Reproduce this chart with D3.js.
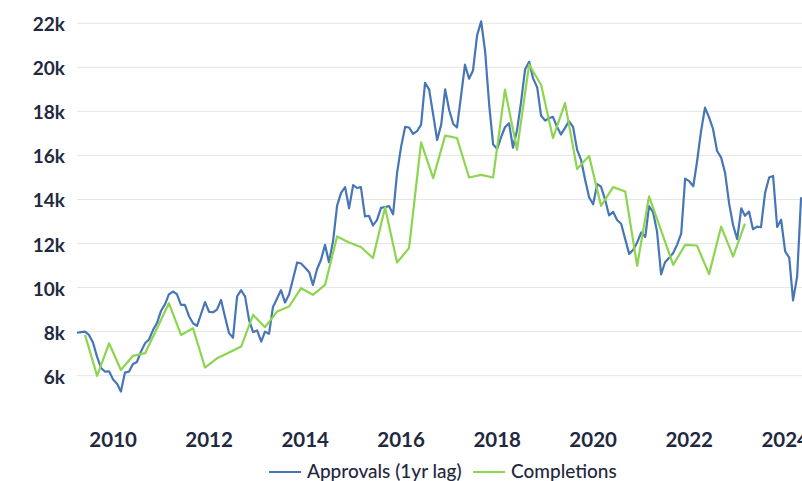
<!DOCTYPE html>
<html>
<head>
<meta charset="utf-8">
<script src="https://cdn.jsdelivr.net/npm/d3@7"></script>
<style>
  body { margin: 0; background: #fff; }
  svg { display: block; font-family: 'Lato', sans-serif; }
</style>
</head>
<body>
<div id="chart"></div>
<script>
// monthly approvals (shifted one year), first month Apr 2009
const approvalsStart = new Date(2009, 3, 1)
const approvals = [
  7950, 7980, 8000, 7850, 7500, 6850, 6350, 6180, 6200,
  5820, 5620, 5280, 6140, 6180, 6530, 6620, 7100, 7470, 7640, 8080, 8400,
  8950, 9260, 9690, 9820, 9700, 9210, 9210, 8700, 8380, 8260, 8800, 9340,
  8900, 8880, 9000, 9440, 8680, 7930, 7720, 9600, 9880, 9590, 8500, 7980,
  8050, 7550, 8000, 7900, 9120, 9500, 9880, 9320, 9700, 10400, 11140, 11090,
  10900, 10700, 10120, 10830, 11250, 11940, 11150, 12100, 13720, 14300, 14560, 13600,
  14650, 14520, 14560, 13230, 13260, 12820, 13060, 13620, 13660, 13700, 13330, 15200,
  16400, 17300, 17270, 16980, 17100, 17400, 19300, 19000, 17850, 16700, 17400, 19000,
  18050, 17430, 17270, 18700, 20120, 19480, 19860, 21450, 22090, 20730, 18300, 16500,
  16300, 16850, 17280, 17460, 16350, 17150, 18400, 19900, 20250, 19500, 19100, 17800,
  17580, 17700, 17750, 17300, 16950, 17250, 17560, 17300, 16250, 15800, 14900, 14100,
  13780, 14700, 14580, 13990, 13280, 13440, 13070, 12900, 12200, 11530, 11720, 12050,
  12500, 12300, 13700, 13420, 12550, 10600, 11150, 11350, 11570, 11950, 12450, 14950,
  14830, 14600, 15700, 17100, 18170, 17730, 17200, 16200, 15900, 15200, 13800, 12830,
  12200, 13600, 13260, 13450, 12650, 12770, 12740, 14300, 15000, 15070, 12750, 13080,
  11640, 11360, 9420, 10500, 14100
]

// quarterly completions, first quarter ending Jun 2009
const completionsStart = new Date(2009, 5, 1)
const completions = [
  7850, 5990, 7470, 6260, 6900, 7020, 8150, 9290, 7850, 8150,
  6370, 6790, 7050, 7320, 8760, 8200, 8910, 9140, 9970, 9670,
  10120, 12320, 12050, 11840, 11340, 13640, 11140, 11790, 16590, 14970,
  16900, 16790, 15000, 15120, 15000, 18990, 16260, 20120, 19210, 16790,
  18380, 15380, 15980, 13710, 14560, 14360, 10990, 14140, 12600, 11030,
  11940, 11910, 10610, 12770, 11410, 12900
]

const yTicks = [6000, 8000, 10000, 12000, 14000, 16000, 18000, 20000, 22000]
const xTickYears = [2010, 2012, 2014, 2016, 2018, 2020, 2022, 2024]

const seriesNames = ['Approvals (1yr lag)', 'Completions']
const seriesColors = ['#4676b6', '#8dd550']

const width = 802
const height = 481
const left = 77

const approvalRows = approvals.map((v, i) => ({ date: d3.timeMonth.offset(approvalsStart, i), value: v }))
const completionRows = completions.map((v, i) => ({ date: d3.timeMonth.offset(completionsStart, i * 3), value: v }))

const x = d3.scaleTime()
  .domain([approvalsStart, new Date(2024, 4, 8)])
  .range([left, width])
const y = d3.scaleLinear()
  .domain([4000, 22000])
  .range([419.7, 23.3])

const svg = d3.select('#chart').append('svg')
  .attr('width', width)
  .attr('height', height)

// grid
svg.append('g')
  .selectAll('line')
  .data(yTicks)
  .join('line')
  .attr('x1', left)
  .attr('x2', width)
  .attr('y1', d => y(d))
  .attr('y2', d => y(d))
  .attr('stroke', '#e6e6e6')
  .attr('stroke-width', 1)

// y labels
svg.append('g')
  .style('font', '700 19px Lato, sans-serif')
  .attr('fill', '#1f2940')
  .selectAll('text')
  .data(yTicks)
  .join('text')
  .attr('x', 65)
  .attr('y', d => y(d))
  .attr('dy', '0.42em')
  .attr('text-anchor', 'end')
  .text(d => d3.format('d')(d / 1000) + 'k')

// x labels
svg.append('g')
  .style('font', '700 20.5px Lato, sans-serif')
  .attr('fill', '#1f2940')
  .selectAll('text')
  .data(xTickYears)
  .join('text')
  .attr('x', d => x(new Date(d, 0, 1)))
  .attr('y', 447)
  .attr('text-anchor', 'middle')
  .text(d => d)

const line = d3.line()
  .x(d => x(d.date))
  .y(d => y(d.value))

svg.append('path')
  .datum(approvalRows)
  .attr('fill', 'none')
  .attr('stroke', seriesColors[0])
  .attr('stroke-width', 2.2)
  .attr('stroke-linejoin', 'round')
  .attr('d', line)

svg.append('path')
  .datum(completionRows)
  .attr('fill', 'none')
  .attr('stroke', seriesColors[1])
  .attr('stroke-width', 2.2)
  .attr('stroke-linejoin', 'round')
  .attr('d', line)

// legend
const legend = svg.append('g')
  .style('font', '500 19px Lato, sans-serif')
  .attr('fill', '#1f2940')
const legendX = [269, 473]
seriesNames.forEach((name, i) => {
  legend.append('line')
    .attr('x1', legendX[i])
    .attr('x2', legendX[i] + 32)
    .attr('y1', 472)
    .attr('y2', 472)
    .attr('stroke', seriesColors[i])
    .attr('stroke-width', 2)
  legend.append('text')
    .attr('x', legendX[i] + 38)
    .attr('y', 478)
    .text(name)
})
</script>
</body>
</html>
